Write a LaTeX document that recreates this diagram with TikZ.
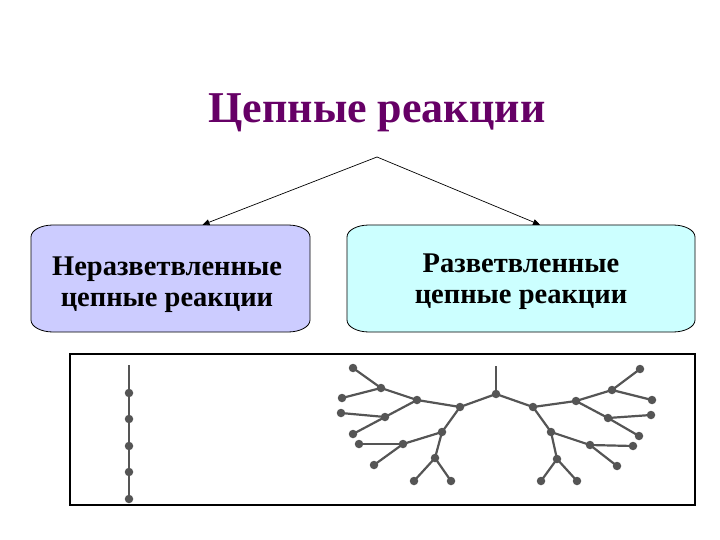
\documentclass[tikz,border=0pt]{standalone}
\usepackage{fontspec}
\setmainfont{Liberation Serif}
\usetikzlibrary{arrows.meta}
\definecolor{titlec}{HTML}{660066}
\definecolor{lav}{HTML}{CCCCFF}
\definecolor{cyanl}{HTML}{CCFFFF}
\definecolor{treec}{HTML}{555555}
\tikzset{
  titletext/.style={font=\fontsize{44}{50}\selectfont\bfseries, text=titlec, inner sep=0pt},
  boxtext/.style={font=\fontsize{28.5}{31}\selectfont\bfseries, align=center, inner sep=0pt},
  boxnode/.style={draw=none, inner sep=0pt, minimum width=279pt, minimum height=107pt},
  boxline/.style={draw=black, line width=0.8pt},
  conn/.style={draw=black, line width=0.7pt, -{Triangle[length=7pt,width=6pt]}},
  dot/.style={circle, fill=treec, inner sep=0pt, minimum size=8.5pt},
  edge/.style={draw=treec, line width=2.2pt},
  framebox/.style={draw=black, line width=1.4pt}
}
\newcommand\eboxpath[5]{%
  \draw[boxline,fill=#5] (#1+22,#2) -- (#3-22,#2)
    arc[start angle=90,end angle=0,x radius=22pt,y radius=12pt] -- (#3,#4-12)
    arc[start angle=0,end angle=-90,x radius=22pt,y radius=12pt] -- (#1+22,#4)
    arc[start angle=270,end angle=180,x radius=22pt,y radius=12pt] -- (#1,#2+12)
    arc[start angle=180,end angle=90,x radius=22pt,y radius=12pt] -- cycle;}
\begin{document}
\begin{tikzpicture}[x=1pt,y=-1pt]
\useasboundingbox (0,0) rectangle (720,540);
% title
\node[titletext, anchor=base] (T) at (377,123) {Цепные реакции};
\coordinate (apex) at (377,157);
% boxes
\eboxpath{31}{225}{310}{332}{lav}
\eboxpath{347}{225}{695}{332}{cyanl}
\node[boxnode] (L) at (170.5,278.5) {};
\node[boxnode, minimum width=348pt] (R) at (521,278.5) {};
\node[boxtext] (Lt) at (167,285) {Неразветвленные\\цепные реакции};
\node[boxtext] (Rt) at (521,282) {Разветвленные\\цепные реакции};
% connectors
\draw[conn] (apex) -- ([xshift=32pt]L.north);
\draw[conn] (apex) -- ([xshift=19pt]R.north);
% frame
\draw[framebox] (70,354) rectangle (695,505);
% linear chain
\coordinate (c0) at (129,365);
\foreach \n/\y in {1/393,2/419,3/446,4/472,5/499}{\node[dot] (c\n) at (129,\y) {};}
\draw[edge] (c0) -- (c1.center) -- (c2.center) -- (c3.center) -- (c4.center) -- (c5.center);
% branched tree
\coordinate (s0) at (496,366);
\node[dot] (R0) at (496,394) {};
\foreach \n/\x/\y in {a1/460/407,a2/417/400,a3/381/388,l1/353/368,l2/342/398,a4/385/417,l3/341/413,l4/353/434,a5/442/432,a6/403/444,l5/359/444,l6/374/465,a7/435/458,l7/414/481,l8/451/481,
 b1/533/407,b2/576/401,b3/612/390,r1/640/369,r2/652/400,b4/608/418,r3/651/415,r4/639/436,b5/551/432,b6/590/445,r5/633/446,r6/617/466,b7/557/459,r7/541/481,r8/577/481}
  {\node[dot] (\n) at (\x,\y) {};}
\draw[edge] (s0) -- (R0.center);
\foreach \p/\q in {R0/a1,a1/a2,a2/a3,a3/l1,a3/l2,a2/a4,a4/l3,a4/l4,a1/a5,a5/a6,a6/l5,a6/l6,a5/a7,a7/l7,a7/l8,
 R0/b1,b1/b2,b2/b3,b3/r1,b3/r2,b2/b4,b4/r3,b4/r4,b1/b5,b5/b6,b6/r5,b6/r6,b5/b7,b7/r7,b7/r8}
  {\draw[edge] (\p.center) -- (\q.center);}
\end{tikzpicture}
\end{document}
